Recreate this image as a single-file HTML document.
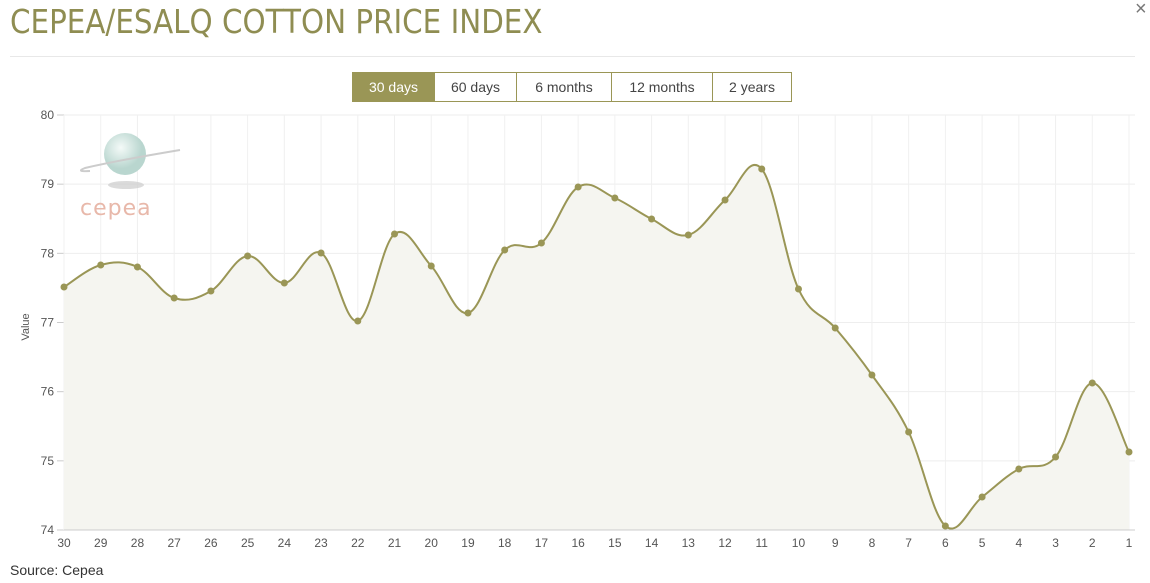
<!DOCTYPE html>
<html><head><meta charset="utf-8"><style>
body{margin:0;width:1150px;height:583px;background:#fff;overflow:hidden;font-family:"Liberation Sans",sans-serif;position:relative}
h1{position:absolute;left:10px;top:2px;margin:0;font-weight:normal;font-size:33px;color:#8f8d52;letter-spacing:0px;font-family:"DejaVu Sans","Liberation Sans",sans-serif;transform:scaleX(0.89);transform-origin:left}
.hr{position:absolute;left:10px;top:56px;width:1125px;height:1px;background:#e8e8e8}
.x{position:absolute;left:1135px;top:-2px;font-size:20px;color:#777}
.btns{position:absolute;left:352px;top:72px;height:30px;display:flex}
.btns div{border:1px solid #9a9656;border-left:none;height:28px;line-height:28px;text-align:center;font-size:14px;color:#444;box-sizing:content-box}
.btns div:first-child{border-left:1px solid #9a9656;background:#9a9656;color:#fff}
.src{position:absolute;left:10px;top:562px;font-size:14px;color:#333}
</style></head><body>
<h1>CEPEA/ESALQ COTTON PRICE INDEX</h1>
<div class="x">×</div>
<div class="hr"></div>
<div class="btns"><div style="width:81px">30 days</div><div style="width:81px">60 days</div><div style="width:94px">6 months</div><div style="width:100px">12 months</div><div style="width:78px">2 years</div></div>
<svg id="c" width="1150" height="583" style="position:absolute;left:0;top:0"></svg>
<div class="src">Source: Cepea</div>
<script>
var ys=[287,265,267,298,291,256,283,253,321,234,266,313,250,243,187,198,219,235,200,169,289,328,375,432,526,497,469,457,383,452];
var x0=64,dx=(1129-64)/29,s='';
for(var v=74;v<=80;v++){var y=530-(v-74)*(415/6);
s+='<line x1="64" x2="1135" y1="'+y+'" y2="'+y+'" stroke="#eee"/>';
s+='<text x="54" y="'+(y+4)+'" font-size="12" fill="#555" text-anchor="end">'+v+'</text>';
s+='<line x1="57" x2="64" y1="'+y+'" y2="'+y+'" stroke="#ccc"/>';}
for(var i=0;i<30;i++){var x=x0+i*dx;
s+='<line x1="'+x+'" x2="'+x+'" y1="115" y2="530" stroke="#f0f0f0"/>';
s+='<text x="'+x+'" y="547" font-size="12" fill="#555" text-anchor="middle">'+(30-i)+'</text>';}
s+='<text x="29" y="327" font-size="11" fill="#555" text-anchor="middle" transform="rotate(-90 29 327)">Value</text>';
s+='<defs><radialGradient id="g" cx="0.4" cy="0.35"><stop offset="0" stop-color="#f4faf8"/><stop offset="1" stop-color="#b9d6cf"/></radialGradient></defs>';
s+='<ellipse cx="126" cy="185" rx="18" ry="4" fill="#ccc" opacity="0.7"/>';
s+='<circle cx="125" cy="154" r="21" fill="url(#g)"/>';
s+='<path d="M180 150 Q120 160 85 168 Q75 172 90 171" stroke="#ccc" stroke-width="2" fill="none"/>';
s+='<text x="80" y="215" font-size="22" fill="#e8b8aa" font-family="DejaVu Sans" letter-spacing="1">cepea</text>';
var P=ys.map(function(y,i){return[x0+i*dx,y]});
var d='M'+P[0][0]+' '+P[0][1];
for(var i=0;i<29;i++){var p0=P[Math.max(0,i-1)],p1=P[i],p2=P[i+1],p3=P[Math.min(29,i+2)];
var t=0.18;
d+=' C'+(p1[0]+(p2[0]-p0[0])*t)+' '+(p1[1]+(p2[1]-p0[1])*t)+' '+(p2[0]-(p3[0]-p1[0])*t)+' '+(p2[1]-(p3[1]-p1[1])*t)+' '+p2[0]+' '+p2[1];}
s+='<path d="'+d+' L1129 530 L64 530 Z" fill="#f5f5f0"/>';
s+='<path d="'+d+'" stroke="#9a9656" stroke-width="2" fill="none"/>';
P.forEach(function(p){s+='<circle cx="'+p[0]+'" cy="'+p[1]+'" r="3.5" fill="#9a9656"/>'});
s+='<line x1="64" x2="1135" y1="530" y2="530" stroke="#ccc"/>';
document.getElementById('c').innerHTML=s;
</script>
</body></html>
